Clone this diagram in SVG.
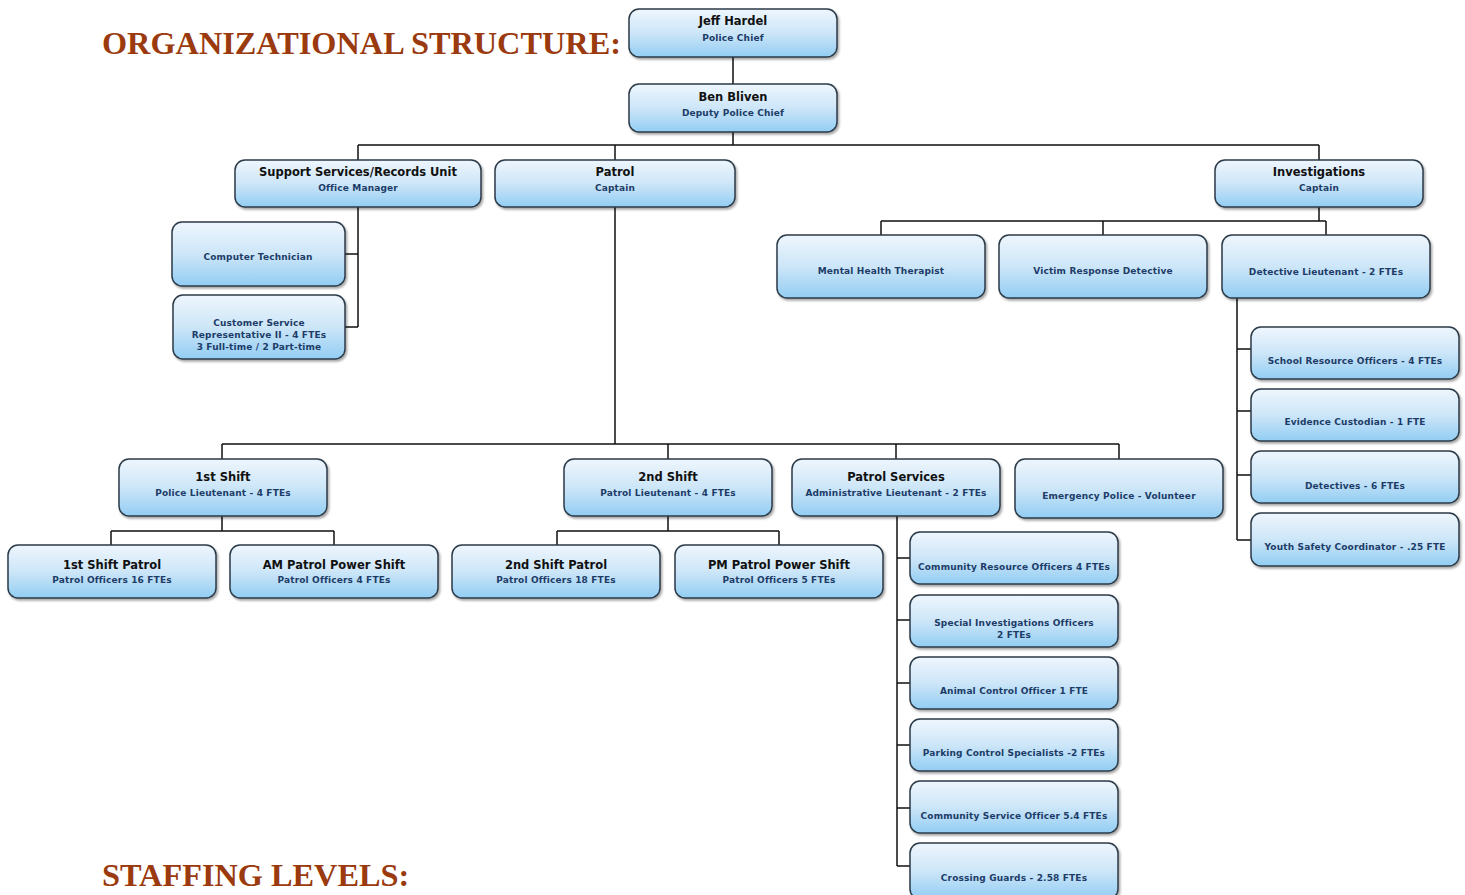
<svg xmlns="http://www.w3.org/2000/svg" width="1465" height="895" viewBox="0 0 1465 895">
<defs>
<linearGradient id="g" x1="0" y1="0" x2="0" y2="1">
<stop offset="0" stop-color="#eef6fd"/>
<stop offset="0.5" stop-color="#cde6f8"/>
<stop offset="1" stop-color="#92cdf3"/>
</linearGradient>
<filter id="sh" x="-5%" y="-10%" width="115%" height="130%">
<feDropShadow dx="1.5" dy="2" stdDeviation="1.2" flood-color="#000" flood-opacity="0.35"/>
</filter>
</defs>
<style>
.box{fill:url(#g);stroke:#2c3a48;stroke-width:1.5;filter:url(#sh)}
.nm{font-family:"DejaVu Sans",Verdana,sans-serif;font-weight:bold;font-size:11.5px;fill:#111;text-anchor:middle}
.sb{font-family:"DejaVu Sans",Verdana,sans-serif;font-weight:bold;font-size:9px;fill:#1d3c68;text-anchor:middle;letter-spacing:0.15px}
.ttl{font-family:"Liberation Serif","Times New Roman",serif;font-weight:bold;font-size:32.3px;fill:#9a3a0e}
.cn{fill:none;stroke:#111;stroke-width:1.5}
</style>
<rect width="1465" height="895" fill="#fff"/>
<text class="ttl" x="102" y="54">ORGANIZATIONAL STRUCTURE:</text>
<text class="ttl" x="102" y="886">STAFFING LEVELS:</text>

<g id="connectors">
<path class="cn" d="M733 57V84M733 132V145M358 145H1319M358 145V160M615 145V160M1319 145V160"/>
<path class="cn" d="M358 207V327M345 254H358M345 327H358"/>
<path class="cn" d="M1319 207V221M881 221H1326M881 221V235M1103 221V235M1326 221V235"/>
<path class="cn" d="M1237 298V540M1237 349H1251M1237 411H1251M1237 475H1251M1237 540H1251"/>
<path class="cn" d="M615 207V444M222 444H1119M222 444V459M668 444V459M896 444V459M1119 444V459"/>
<path class="cn" d="M222 516V531M111 531H334M111 531V545M334 531V545"/>
<path class="cn" d="M668 516V531M557 531H779M557 531V545M779 531V545"/>
<path class="cn" d="M897 516V866M897 558H910M897 620H910M897 683H910M897 745H910M897 808H910M897 866H910"/>
</g>

<g id="chief"><rect class="box" x="629" y="9" width="208" height="48" rx="10"/><text class="nm" x="733" y="25">Jeff Hardel</text><text class="sb" x="733" y="41">Police Chief</text></g>
<g id="deputy"><rect class="box" x="629" y="84" width="208" height="48" rx="10"/><text class="nm" x="733" y="101">Ben Bliven</text><text class="sb" x="733" y="116">Deputy Police Chief</text></g>
<g id="support"><rect class="box" x="235" y="160" width="246" height="47" rx="10"/><text class="nm" x="358" y="176">Support Services/Records Unit</text><text class="sb" x="358" y="191">Office Manager</text></g>
<g id="patrol"><rect class="box" x="495" y="160" width="240" height="47" rx="10"/><text class="nm" x="615" y="176">Patrol</text><text class="sb" x="615" y="191">Captain</text></g>
<g id="investigations"><rect class="box" x="1215" y="160" width="208" height="47" rx="10"/><text class="nm" x="1319" y="176">Investigations</text><text class="sb" x="1319" y="191">Captain</text></g>

<g id="computer-tech"><rect class="box" x="172" y="222" width="173" height="64" rx="10"/><text class="sb" x="258" y="260">Computer Technician</text></g>
<g id="csr"><rect class="box" x="173" y="295" width="172" height="64" rx="10"/><text class="sb" x="259" y="326">Customer Service</text><text class="sb" x="259" y="338">Representative II - 4 FTEs</text><text class="sb" x="259" y="350">3 Full-time / 2 Part-time</text></g>

<g id="mental-health"><rect class="box" x="777" y="235" width="208" height="63" rx="10"/><text class="sb" x="881" y="274">Mental Health Therapist</text></g>
<g id="victim-response"><rect class="box" x="999" y="235" width="208" height="63" rx="10"/><text class="sb" x="1103" y="274">Victim Response Detective</text></g>
<g id="det-lieutenant"><rect class="box" x="1222" y="235" width="208" height="63" rx="10"/><text class="sb" x="1326" y="275">Detective Lieutenant - 2 FTEs</text></g>

<g id="sro"><rect class="box" x="1251" y="327" width="208" height="52" rx="10"/><text class="sb" x="1355" y="364">School Resource Officers - 4 FTEs</text></g>
<g id="evidence"><rect class="box" x="1251" y="389" width="208" height="52" rx="10"/><text class="sb" x="1355" y="425">Evidence Custodian - 1 FTE</text></g>
<g id="detectives"><rect class="box" x="1251" y="451" width="208" height="52" rx="10"/><text class="sb" x="1355" y="489">Detectives - 6 FTEs</text></g>
<g id="youth"><rect class="box" x="1251" y="513" width="208" height="53" rx="10"/><text class="sb" x="1355" y="550">Youth Safety Coordinator - .25 FTE</text></g>

<g id="shift1"><rect class="box" x="119" y="459" width="208" height="57" rx="10"/><text class="nm" x="223" y="481">1st Shift</text><text class="sb" x="223" y="496">Police Lieutenant - 4 FTEs</text></g>
<g id="shift2"><rect class="box" x="564" y="459" width="208" height="57" rx="10"/><text class="nm" x="668" y="481">2nd Shift</text><text class="sb" x="668" y="496">Patrol Lieutenant - 4 FTEs</text></g>
<g id="patrol-services"><rect class="box" x="792" y="459" width="208" height="57" rx="10"/><text class="nm" x="896" y="481">Patrol Services</text><text class="sb" x="896" y="496">Administrative Lieutenant - 2 FTEs</text></g>
<g id="emergency"><rect class="box" x="1015" y="459" width="208" height="59" rx="10"/><text class="sb" x="1119" y="499">Emergency Police - Volunteer</text></g>

<g id="shift1-patrol"><rect class="box" x="8" y="545" width="208" height="53" rx="10"/><text class="nm" x="112" y="569">1st Shift Patrol</text><text class="sb" x="112" y="583">Patrol Officers 16 FTEs</text></g>
<g id="am-power"><rect class="box" x="230" y="545" width="208" height="53" rx="10"/><text class="nm" x="334" y="569">AM Patrol Power Shift</text><text class="sb" x="334" y="583">Patrol Officers 4 FTEs</text></g>
<g id="shift2-patrol"><rect class="box" x="452" y="545" width="208" height="53" rx="10"/><text class="nm" x="556" y="569">2nd Shift Patrol</text><text class="sb" x="556" y="583">Patrol Officers 18 FTEs</text></g>
<g id="pm-power"><rect class="box" x="675" y="545" width="208" height="53" rx="10"/><text class="nm" x="779" y="569">PM Patrol Power Shift</text><text class="sb" x="779" y="583">Patrol Officers 5 FTEs</text></g>

<g id="cro"><rect class="box" x="910" y="532" width="208" height="52" rx="10"/><text class="sb" x="1014" y="570">Community Resource Officers 4 FTEs</text></g>
<g id="sio"><rect class="box" x="910" y="595" width="208" height="52" rx="10"/><text class="sb" x="1014" y="626">Special Investigations Officers</text><text class="sb" x="1014" y="638">2 FTEs</text></g>
<g id="aco"><rect class="box" x="910" y="657" width="208" height="52" rx="10"/><text class="sb" x="1014" y="694">Animal Control Officer 1 FTE</text></g>
<g id="pcs"><rect class="box" x="910" y="719" width="208" height="52" rx="10"/><text class="sb" x="1014" y="756">Parking Control Specialists -2 FTEs</text></g>
<g id="cso"><rect class="box" x="910" y="781" width="208" height="52" rx="10"/><text class="sb" x="1014" y="819">Community Service Officer 5.4 FTEs</text></g>
<g id="crossing"><rect class="box" x="910" y="843" width="208" height="56" rx="10"/><text class="sb" x="1014" y="881">Crossing Guards - 2.58 FTEs</text></g>
</svg>
